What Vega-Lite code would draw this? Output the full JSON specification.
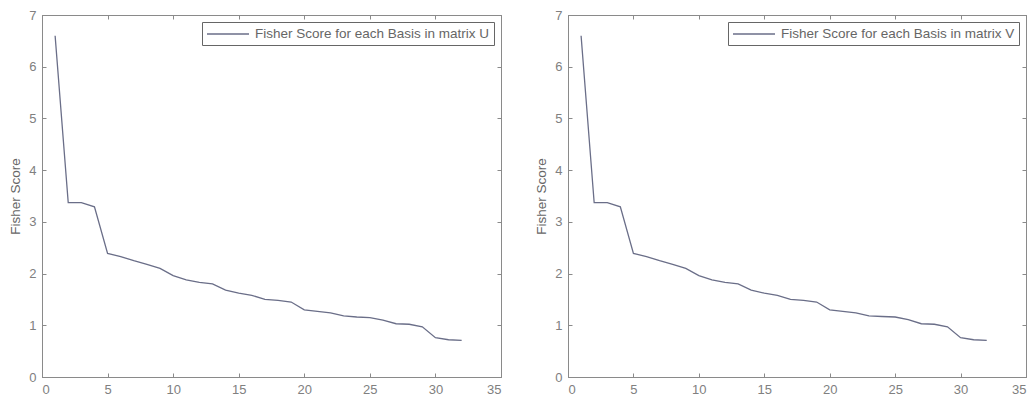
{
  "$schema": "https://vega.github.io/schema/vega-lite/v6.json",
  "background": "white",
  "padding": {"left": 8, "top": 8, "right": 4, "bottom": 2},
  "spacing": 32,
  "datasets": {
    "U": [
      {"basis": 1, "score": 6.6, "series": "Fisher Score for each Basis in matrix U"},
      {"basis": 2, "score": 3.37, "series": "Fisher Score for each Basis in matrix U"},
      {"basis": 3, "score": 3.37, "series": "Fisher Score for each Basis in matrix U"},
      {"basis": 4, "score": 3.29, "series": "Fisher Score for each Basis in matrix U"},
      {"basis": 5, "score": 2.39, "series": "Fisher Score for each Basis in matrix U"},
      {"basis": 6, "score": 2.33, "series": "Fisher Score for each Basis in matrix U"},
      {"basis": 7, "score": 2.25, "series": "Fisher Score for each Basis in matrix U"},
      {"basis": 8, "score": 2.18, "series": "Fisher Score for each Basis in matrix U"},
      {"basis": 9, "score": 2.1, "series": "Fisher Score for each Basis in matrix U"},
      {"basis": 10, "score": 1.96, "series": "Fisher Score for each Basis in matrix U"},
      {"basis": 11, "score": 1.88, "series": "Fisher Score for each Basis in matrix U"},
      {"basis": 12, "score": 1.83, "series": "Fisher Score for each Basis in matrix U"},
      {"basis": 13, "score": 1.8, "series": "Fisher Score for each Basis in matrix U"},
      {"basis": 14, "score": 1.68, "series": "Fisher Score for each Basis in matrix U"},
      {"basis": 15, "score": 1.62, "series": "Fisher Score for each Basis in matrix U"},
      {"basis": 16, "score": 1.58, "series": "Fisher Score for each Basis in matrix U"},
      {"basis": 17, "score": 1.5, "series": "Fisher Score for each Basis in matrix U"},
      {"basis": 18, "score": 1.48, "series": "Fisher Score for each Basis in matrix U"},
      {"basis": 19, "score": 1.45, "series": "Fisher Score for each Basis in matrix U"},
      {"basis": 20, "score": 1.3, "series": "Fisher Score for each Basis in matrix U"},
      {"basis": 21, "score": 1.27, "series": "Fisher Score for each Basis in matrix U"},
      {"basis": 22, "score": 1.24, "series": "Fisher Score for each Basis in matrix U"},
      {"basis": 23, "score": 1.18, "series": "Fisher Score for each Basis in matrix U"},
      {"basis": 24, "score": 1.16, "series": "Fisher Score for each Basis in matrix U"},
      {"basis": 25, "score": 1.15, "series": "Fisher Score for each Basis in matrix U"},
      {"basis": 26, "score": 1.1, "series": "Fisher Score for each Basis in matrix U"},
      {"basis": 27, "score": 1.03, "series": "Fisher Score for each Basis in matrix U"},
      {"basis": 28, "score": 1.02, "series": "Fisher Score for each Basis in matrix U"},
      {"basis": 29, "score": 0.97, "series": "Fisher Score for each Basis in matrix U"},
      {"basis": 30, "score": 0.76, "series": "Fisher Score for each Basis in matrix U"},
      {"basis": 31, "score": 0.72, "series": "Fisher Score for each Basis in matrix U"},
      {"basis": 32, "score": 0.71, "series": "Fisher Score for each Basis in matrix U"}
    ],
    "V": [
      {"basis": 1, "score": 6.6, "series": "Fisher Score for each Basis in matrix V"},
      {"basis": 2, "score": 3.37, "series": "Fisher Score for each Basis in matrix V"},
      {"basis": 3, "score": 3.37, "series": "Fisher Score for each Basis in matrix V"},
      {"basis": 4, "score": 3.29, "series": "Fisher Score for each Basis in matrix V"},
      {"basis": 5, "score": 2.39, "series": "Fisher Score for each Basis in matrix V"},
      {"basis": 6, "score": 2.33, "series": "Fisher Score for each Basis in matrix V"},
      {"basis": 7, "score": 2.25, "series": "Fisher Score for each Basis in matrix V"},
      {"basis": 8, "score": 2.18, "series": "Fisher Score for each Basis in matrix V"},
      {"basis": 9, "score": 2.1, "series": "Fisher Score for each Basis in matrix V"},
      {"basis": 10, "score": 1.96, "series": "Fisher Score for each Basis in matrix V"},
      {"basis": 11, "score": 1.88, "series": "Fisher Score for each Basis in matrix V"},
      {"basis": 12, "score": 1.83, "series": "Fisher Score for each Basis in matrix V"},
      {"basis": 13, "score": 1.8, "series": "Fisher Score for each Basis in matrix V"},
      {"basis": 14, "score": 1.68, "series": "Fisher Score for each Basis in matrix V"},
      {"basis": 15, "score": 1.62, "series": "Fisher Score for each Basis in matrix V"},
      {"basis": 16, "score": 1.58, "series": "Fisher Score for each Basis in matrix V"},
      {"basis": 17, "score": 1.5, "series": "Fisher Score for each Basis in matrix V"},
      {"basis": 18, "score": 1.48, "series": "Fisher Score for each Basis in matrix V"},
      {"basis": 19, "score": 1.45, "series": "Fisher Score for each Basis in matrix V"},
      {"basis": 20, "score": 1.3, "series": "Fisher Score for each Basis in matrix V"},
      {"basis": 21, "score": 1.27, "series": "Fisher Score for each Basis in matrix V"},
      {"basis": 22, "score": 1.24, "series": "Fisher Score for each Basis in matrix V"},
      {"basis": 23, "score": 1.18, "series": "Fisher Score for each Basis in matrix V"},
      {"basis": 24, "score": 1.17, "series": "Fisher Score for each Basis in matrix V"},
      {"basis": 25, "score": 1.16, "series": "Fisher Score for each Basis in matrix V"},
      {"basis": 26, "score": 1.11, "series": "Fisher Score for each Basis in matrix V"},
      {"basis": 27, "score": 1.03, "series": "Fisher Score for each Basis in matrix V"},
      {"basis": 28, "score": 1.02, "series": "Fisher Score for each Basis in matrix V"},
      {"basis": 29, "score": 0.97, "series": "Fisher Score for each Basis in matrix V"},
      {"basis": 30, "score": 0.76, "series": "Fisher Score for each Basis in matrix V"},
      {"basis": 31, "score": 0.72, "series": "Fisher Score for each Basis in matrix V"},
      {"basis": 32, "score": 0.71, "series": "Fisher Score for each Basis in matrix V"}
    ]
  },
  "resolve": {"scale": {"color": "independent"}, "legend": {"color": "independent"}},
  "hconcat": [
    {
      "width": 459,
      "height": 362,
      "data": {"name": "U"},
      "layer": [
        {
          "mark": {"type": "line", "strokeWidth": 1.3},
          "encoding": {
            "x": {"field": "basis", "type": "quantitative", "scale": {"domain": [0, 35], "nice": false},
                  "axis": {"orient": "bottom", "title": null, "values": [0, 5, 10, 15, 20, 25, 30, 35]}},
            "y": {"field": "score", "type": "quantitative", "scale": {"domain": [0, 7], "nice": false},
                  "axis": {"orient": "left", "title": "Fisher Score", "values": [0, 1, 2, 3, 4, 5, 6, 7]}},
            "color": {"field": "series", "type": "nominal", "scale": {"range": ["#6a6e88"]},
                      "legend": {"title": null, "orient": "top-right", "offset": 7}}
          }
        },
        {
          "mark": {"type": "line", "strokeOpacity": 0},
          "encoding": {
            "x": {"field": "basis", "type": "quantitative", "axis": {"orient": "top", "title": null, "labels": false, "values": [0, 5, 10, 15, 20, 25, 30, 35]}},
            "y": {"field": "score", "type": "quantitative", "axis": {"orient": "right", "title": null, "labels": false, "values": [0, 1, 2, 3, 4, 5, 6, 7]}}
          }
        }
      ]
    },
    {
      "width": 458,
      "height": 362,
      "data": {"name": "V"},
      "layer": [
        {
          "mark": {"type": "line", "strokeWidth": 1.3},
          "encoding": {
            "x": {"field": "basis", "type": "quantitative", "scale": {"domain": [0, 35], "nice": false},
                  "axis": {"orient": "bottom", "title": null, "values": [0, 5, 10, 15, 20, 25, 30, 35]}},
            "y": {"field": "score", "type": "quantitative", "scale": {"domain": [0, 7], "nice": false},
                  "axis": {"orient": "left", "title": "Fisher Score", "values": [0, 1, 2, 3, 4, 5, 6, 7]}},
            "color": {"field": "series", "type": "nominal", "scale": {"range": ["#6a6e88"]},
                      "legend": {"title": null, "orient": "top-right", "offset": 7}}
          }
        },
        {
          "mark": {"type": "line", "strokeOpacity": 0},
          "encoding": {
            "x": {"field": "basis", "type": "quantitative", "axis": {"orient": "top", "title": null, "labels": false, "values": [0, 5, 10, 15, 20, 25, 30, 35]}},
            "y": {"field": "score", "type": "quantitative", "axis": {"orient": "right", "title": null, "labels": false, "values": [0, 1, 2, 3, 4, 5, 6, 7]}}
          }
        }
      ]
    }
  ],
  "config": {
    "font": "Liberation Sans",
    "view": {"stroke": "#8a8a8a", "strokeWidth": 1},
    "axis": {
      "grid": false,
      "domainColor": "#8a8a8a",
      "tickColor": "#8a8a8a",
      "tickSize": -4,
      "labelPadding": 10,
      "labelColor": "#808080",
      "labelFontSize": 13,
      "labelFont": "Liberation Sans",
      "titleColor": "#666666",
      "titleFontSize": 13.5,
      "titleFontWeight": "normal",
      "titlePadding": 6
    },
    "legend": {
      "strokeColor": "#666666",
      "fillColor": "white",
      "padding": 4,
      "cornerRadius": 0,
      "symbolType": "M-1,0H5",
      "symbolSize": 196,
      "symbolStrokeWidth": 1.3,
      "symbolFillColor": "transparent",
      "labelFontSize": 13.5,
      "labelColor": "#666666",
      "labelLimit": 400,
      "labelOffset": 33,
      "symbolOffset": 0
    }
  }
}
